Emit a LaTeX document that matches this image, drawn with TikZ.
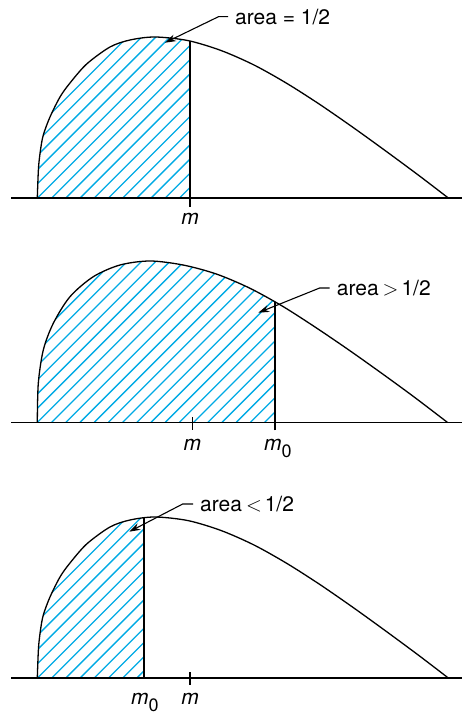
\documentclass[tikz,border=0pt]{standalone}
\usepackage{fontspec}
\setmainfont{TeX Gyre Heros}
\usepackage{tikz}
\usetikzlibrary{arrows.meta}
\definecolor{HatchCyan}{RGB}{0,170,228}
\tikzset{
	densline/.style={draw=black,line width=1.3pt},
	axisline/.style={draw=black,line width=1.2pt},
	hatch/.style={draw=HatchCyan,line width=1.3pt},
	cut/.style={draw=black,line width=1.4pt},
	leader/.style={draw=black,line width=1.1pt,-{Stealth[length=11pt,width=7pt]}},
	lbl/.style={font=\fontsize{21}{24}\selectfont,inner sep=0pt},
	arealbl/.style={lbl,anchor=west,inner xsep=7pt},
	skewcurve/.style={insert path={plot[smooth] coordinates {(37.3,0) (38.5,30) (40.5,48) (43.3,63) (50,81) (60,101) (70,115) (86.7,134) (110,151) (130,158) (155,161) (188,157.4) (221,147.5) (254,133) (287,114.5) (320,93.4) (353,70.6) (386,46.8) (419,22.4) (448.3,0)}}},
	fatcurve/.style={insert path={plot[smooth] coordinates {(37.3,0) (38.3,39) (43.3,72.3) (53.3,99) (70,125.6) (93.3,145.6) (120,157.3) (150,161.3) (183,157.3) (216,148.4) (249,134.5) (282,116.4) (315,95.3) (348,72.9) (381,49.5) (414,25.4) (447.3,0)}}},
}
\newcommand{\mnought}{\textit{m}\raisebox{-7pt}{\fontsize{18}{18}\selectfont 0}}

\begin{document}
\begin{tikzpicture}[x=1pt,y=1pt]
	\useasboundingbox (0,0) rectangle (462,715);
	% top: shaded part ends at the median
	\begin{scope}[yshift=517pt]
		\begin{scope}
			\clip[skewcurve];
			\clip (30,0) rectangle (190,200);
			\foreach \n in {-10,...,18}
				\draw[hatch] (37.5+14.2*\n,0) -- ++(200,200);
		\end{scope}
		\draw[densline,skewcurve];
		\draw[axisline] (11,0) -- (462,0);
		\draw[cut] (190,-9) -- (190,156.8);
		\node[lbl,anchor=base] (m1) at (190,-27) {\textit{m}};
		\coordinate (tip1) at (165,155.3);
		\node[arealbl] (area1) at (228,181.3) {area = 1/2};
		\draw[leader] (area1.west) -- ++(-9.5,0) -- (tip1);
	\end{scope}
	% middle: m0 right of m
	\begin{scope}[yshift=292.7pt]
		\begin{scope}
			\clip[fatcurve];
			\clip (30,0) rectangle (275,200);
			\foreach \n in {-10,...,18}
				\draw[hatch] (37.5+14.2*\n,0) -- ++(200,200);
		\end{scope}
		\draw[densline,fatcurve];
		\draw[axisline] (11,0) -- (462,0);
		\draw[axisline] (192.3,-7.7) -- (192.3,5.6);
		\draw[cut] (275,-8) -- (275,120.2);
		\node[lbl,anchor=base] (m2) at (192.3,-28.4) {\textit{m}};
		\node[lbl,anchor=base] (mo2) at (277.8,-28.4) {\mnought};
		\coordinate (tip2) at (258.3,109.6);
		\node[arealbl] (area2) at (329.7,134.3) {area\hspace{4pt}$>$\hspace{3pt}1/2};
		\draw[leader] (area2.west) -- ++(-10,0) -- (tip2);
	\end{scope}
	% bottom: m0 left of m
	\begin{scope}[yshift=37pt]
		\begin{scope}
			\clip[skewcurve];
			\clip (30,0) rectangle (144,200);
			\foreach \n in {-10,...,18}
				\draw[hatch] (37.5+14.2*\n,0) -- ++(200,200);
		\end{scope}
		\draw[densline,skewcurve];
		\draw[axisline] (11,0) -- (462,0);
		\draw[axisline] (190,-7) -- (190,5.7);
		\draw[cut] (144,0) -- (144,160.3);
		\node[lbl,anchor=base] (m3) at (190,-27) {\textit{m}};
		\node[lbl,anchor=base] (mo3) at (144.8,-27) {\mnought};
		\coordinate (tip3) at (129.3,146.3);
		\node[arealbl] (area3) at (193,174) {area\hspace{4pt}$<$\hspace{3pt}1/2};
		\draw[leader] (area3.west) -- ++(-10.3,0) -- (tip3);
	\end{scope}
\end{tikzpicture}
\end{document}
